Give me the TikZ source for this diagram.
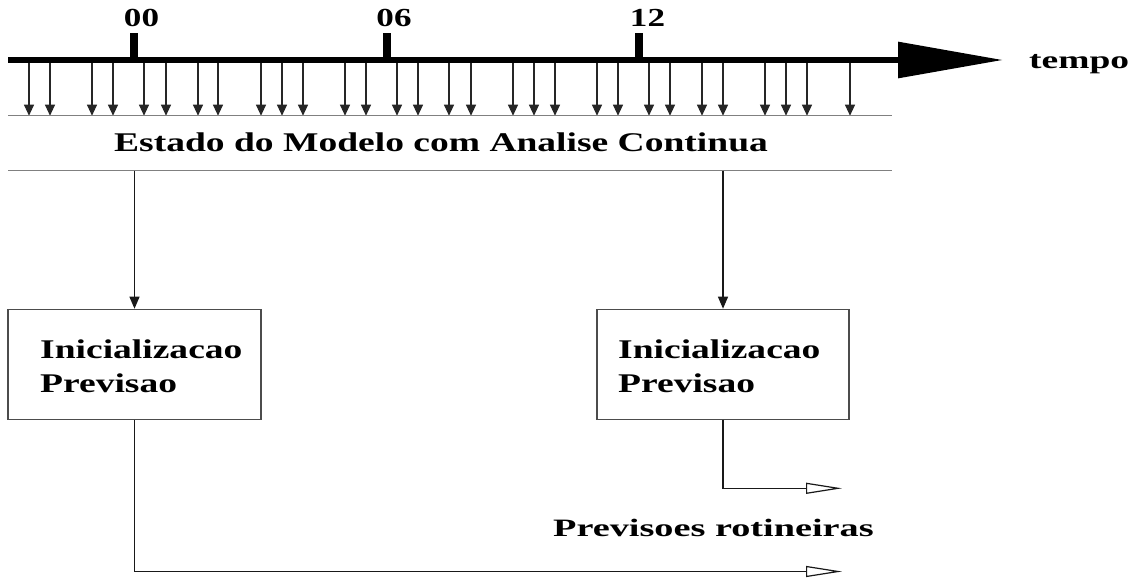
\documentclass[tikz,border=0pt]{standalone}
\usepackage{fontspec}
\setmainfont{Liberation Serif}
\usetikzlibrary{arrows.meta}
\newcommand{\stxt}[3]{\scalebox{#1}[1]{\fontsize{#2pt}{#2pt}\selectfont\bfseries #3}}
\begin{document}
\begin{tikzpicture}[x=1pt,y=-1pt,
  lbl/.style={inner sep=0pt, anchor=base west},
  dig/.style={inner sep=0pt, anchor=base},
  obsarrow/.style={draw=black!85, line width=1.1pt, -{Triangle[length=11pt,width=10pt]}},
  conn/.style={draw=black!90, line width=1.2pt, -{Triangle[length=12pt,width=10pt]}},
  outarrow/.style={draw=black!90, line width=1.2pt, -{Triangle[open,length=36pt,width=11pt,fill=white]}},
  sepline/.style={draw=black!50, line width=1.1pt},
  boxst/.style={draw=black!70, line width=1.2pt, inner sep=0pt, minimum height=110pt},
  tick/.style={fill=black}]
\useasboundingbox (0,0) rectangle (1135,578);

% time axis
\coordinate (tl) at (8,60);
\coordinate (tr) at (1003,60);
\draw[line width=6pt, -{Triangle[length=105pt,width=35pt]}] (tl) -- (tr);
\fill[tick] (130,33) rectangle (138,60);
\fill[tick] (383,33) rectangle (391,60);
\fill[tick] (635,33) rectangle (643,60);
\node[dig] (l00) at (141.5,27) {\stxt{1.35}{26}{00}};
\node[dig] (l06) at (394,27) {\stxt{1.35}{26}{06}};
\node[dig] (l12) at (647.5,27) {\stxt{1.35}{26}{12}};
\node[lbl] (tempo) at (1029,68.3) {\stxt{1.5}{25}{tempo}};

% observation arrows
\foreach \x in {29,50,92,113,144,166,198,218,261,282,303,345,366,397,418,449,471,513,534,555,597,618,649,670,702,723,765,786,807,850}
  \draw[obsarrow] (\x,63) -- (\x,115.7);

% band
\coordinate (la) at (8,115.7);
\coordinate (ra) at (892,115.7);
\coordinate (lb) at (8,170.7);
\coordinate (rb) at (892,170.7);
\draw[sepline] (la) -- (ra);
\draw[sepline] (lb) -- (rb);
\node[lbl] (estado) at (114,151) {\stxt{1.39}{27}{Estado do Modelo com Analise Continua}};

% boxes
\node[boxst, minimum width=253pt] (b1) at (134.5,364.3) {};
\node[boxst, minimum width=252pt] (b2) at (723,364.3) {};
\node[lbl] (b1a) at (40,358) {\stxt{1.39}{27}{Inicializacao}};
\node[lbl] (b1b) at (40,392.5) {\stxt{1.39}{27}{Previsao}};
\node[lbl] (b2a) at (618,358) {\stxt{1.39}{27}{Inicializacao}};
\node[lbl] (b2b) at (618,392.5) {\stxt{1.39}{27}{Previsao}};

\coordinate (s1) at (134.5,170.7);
\coordinate (s2) at (723,170.7);
\draw[conn] (s1) -- (b1.north);
\draw[conn] (s2) -- (b2.north);

% outputs
\coordinate (e2) at (842,488.3);
\coordinate (e1) at (842,571.5);
\draw[outarrow] (b2.south) |- (e2);
\draw[outarrow] (b1.south) |- (e1);
\node[lbl] (prev) at (553,536.7) {\stxt{1.53}{25}{Previsoes rotineiras}};
\end{tikzpicture}
\end{document}
